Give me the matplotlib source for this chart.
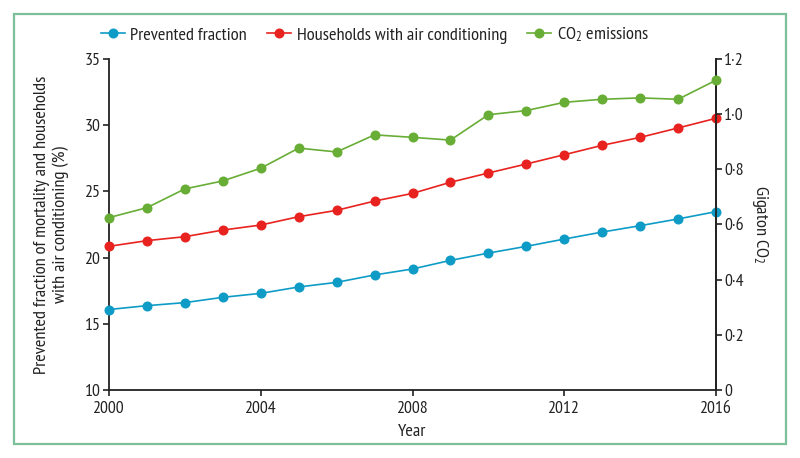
import matplotlib
matplotlib.use("Agg")
import matplotlib.pyplot as plt
from matplotlib.patches import Rectangle
from matplotlib.lines import Line2D

years = list(range(2000, 2017))
prevented = [16.08, 16.37, 16.6, 17.0, 17.3, 17.78, 18.13, 18.69, 19.14, 19.79, 20.34, 20.85, 21.40, 21.93, 22.41, 22.92, 23.47]
households = [20.85, 21.28, 21.58, 22.08, 22.46, 23.09, 23.57, 24.27, 24.85, 25.69, 26.39, 27.07, 27.77, 28.48, 29.08, 29.79, 30.52]
co2 = [0.625, 0.661, 0.729, 0.758, 0.804, 0.877, 0.863, 0.925, 0.916, 0.906, 0.998, 1.013, 1.043, 1.054, 1.059, 1.054, 1.123]
xticks = [2000, 2004, 2008, 2012, 2016]
left_ticks = [10, 15, 20, 25, 30, 35]
right_ticks = [0, 0.2, 0.4, 0.6, 0.8, 1.0, 1.2]
right_labels = ["0", "0·2", "0·4", "0·6", "0·8", "1·0", "1·2"]

fam = "PT Sans Narrow"
plt.rcParams['font.family'] = [fam, 'DejaVu Sans']
plt.rcParams['mathtext.fontset'] = 'custom'
plt.rcParams['mathtext.rm'] = fam
plt.rcParams['mathtext.it'] = fam

blue = "#0e9cc6"
red = "#e8231f"
green = "#68ad35"
txt = "#222222"
fs = 13.2
tfs = 12.8

fig = plt.figure(figsize=(8, 4.58), dpi=100)
frame = Rectangle((14/800, 1-444/458), 772/800, 430/458,
                  transform=fig.transFigure, fill=False,
                  edgecolor="#7dbf98", linewidth=1.6)
fig.patches.append(frame)

ax = fig.add_axes([109/800, 1-390/458, 607/800, 331/458])
ax2 = ax.twinx()

ms = 6.2
lw = 1.2
ax.plot(years, prevented, color=blue, marker='o', markersize=ms, lw=lw, clip_on=False, zorder=3)
ax.plot(years, households, color=red, marker='o', markersize=ms, lw=lw, clip_on=False, zorder=3)
ax2.plot(years, co2, color=green, marker='o', markersize=ms, lw=lw, clip_on=False, zorder=3)

ax.set_xlim(2000, 2016)
ax.set_ylim(10, 35)
ax2.set_ylim(0, 1.2)
ax.set_xticks(xticks)
ax.set_yticks(left_ticks)
ax2.set_yticks(right_ticks)
ax2.set_yticklabels(right_labels)

for a in (ax, ax2):
    a.spines['top'].set_visible(False)
    for s in a.spines.values():
        s.set_color(txt)
        s.set_linewidth(1.3)
    a.tick_params(direction='out', length=4.5, width=1.2, colors=txt, labelsize=tfs, pad=1.5)
ax.tick_params(axis='x', pad=3.5)
ax2.spines['left'].set_visible(False)
ax2.spines['bottom'].set_visible(False)

ax.set_xlabel("Year", fontsize=fs, color=txt, labelpad=5)
ax.set_ylabel("Prevented fraction of mortality and households\nwith air conditioning (%)",
              fontsize=fs, color=txt, labelpad=11, linespacing=1.2)
ax2.set_ylabel("Gigaton CO$_2$", fontsize=fs, color=txt, rotation=270, labelpad=19)

handles = [Line2D([], [], color=blue, marker='o', markersize=ms, lw=lw),
           Line2D([], [], color=red, marker='o', markersize=ms, lw=lw),
           Line2D([], [], color=green, marker='o', markersize=ms, lw=lw)]
labels = ["Prevented fraction", "Households with air conditioning", "CO$_2$ emissions"]
fig.legend(handles, labels, loc='center', bbox_to_anchor=(375/800, 1-35/458), ncol=3,
           frameon=False, fontsize=fs, handlelength=1.3, handletextpad=0.3,
           columnspacing=1.1, labelcolor=txt)

fig.savefig("out.png", dpi=100)
